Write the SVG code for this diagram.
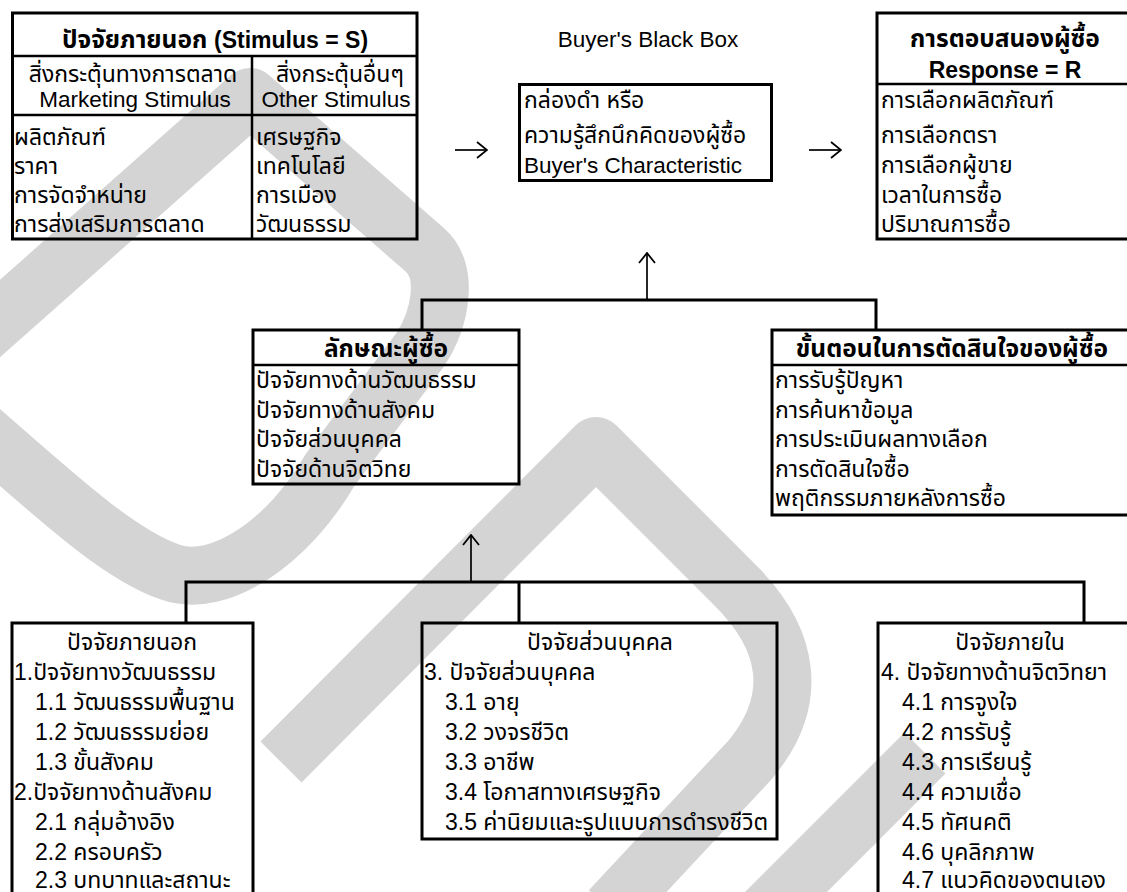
<svg xmlns="http://www.w3.org/2000/svg" width="1127" height="892" viewBox="0 0 1127 892">
<defs>
<style>
.t{font-family:"Liberation Sans","Noto Sans Thai","Tahoma","Loma","Garuda",sans-serif;font-size:22.5px;fill:#000}
.th{font-size:23px}
.b{font-weight:bold;font-size:23px}
.bth{font-weight:bold;font-size:24.5px}
.m{text-anchor:middle}
.box{fill:none;stroke:#000;stroke-width:3}
.dv{stroke:#000;stroke-width:2.5}
.con{fill:none;stroke:#000;stroke-width:3}
.arr{fill:none;stroke:#000;stroke-width:1.7;marker-end:url(#ah)}
.wm{fill:none;stroke:#d4d4d4;stroke-width:58;stroke-linejoin:round}
</style>
<marker id="ah" viewBox="0 0 12 18" refX="11" refY="9" markerWidth="12" markerHeight="18" markerUnits="userSpaceOnUse" orient="auto"><path d="M1,1 L11,9 L1,17" fill="none" stroke="#000" stroke-width="1.8"/></marker>
</defs>
<rect width="1127" height="892" fill="#fff"/>
<g id="watermark">
<path class="wm" d="M -30,345 L 250,97 L 425,250 C 450,272 440,320 420,350 L 330,470 C 290,540 220,590 170,572 C 120,555 60,500 -20,430"/>
<path class="wm" d="M 281,762 L 596,446 L 735,585 C 790,640 800,700 750,760 L 610,910"/>
<path class="wm" d="M 925,753 L 760,918"/>
</g>
<g id="stimulus">
<rect class="box" x="12.5" y="13" width="404.5" height="226"/>
<line class="dv" x1="12.5" y1="56" x2="417" y2="56"/>
<line class="dv" x1="252" y1="56" x2="252" y2="239"/>
<line class="dv" x1="12.5" y1="115" x2="417" y2="115"/>
<text class="t b m" x="215" y="48"><tspan class="bth">ปัจจัยภายนอก </tspan>(Stimulus = S)</text>
<text class="t th m" x="133" y="82">สิ่งกระตุ้นทางการตลาด</text>
<text class="t m" x="135" y="107">Marketing Stimulus</text>
<text class="t th m" x="340" y="82">สิ่งกระตุ้นอื่นๆ</text>
<text class="t m" x="336" y="107">Other Stimulus</text>
<text class="t th" x="14" y="145">ผลิตภัณฑ์</text>
<text class="t th" x="14" y="174">ราคา</text>
<text class="t th" x="14" y="203">การจัดจำหน่าย</text>
<text class="t th" x="14" y="232">การส่งเสริมการตลาด</text>
<text class="t th" x="256" y="145">เศรษฐกิจ</text>
<text class="t th" x="256" y="174">เทคโนโลยี</text>
<text class="t th" x="256" y="203">การเมือง</text>
<text class="t th" x="256" y="232">วัฒนธรรม</text>
</g>
<g id="blackbox-title">
<text class="t m" x="648" y="47">Buyer's Black Box</text>
</g>
<g id="blackbox">
<rect class="box" x="519.5" y="84.5" width="252" height="96"/>
<text class="t th" x="524" y="108">กล่องดำ หรือ</text>
<text class="t th" x="524" y="143">ความรู้สึกนึกคิดของผู้ซื้อ</text>
<text class="t" x="524" y="173">Buyer's Characteristic</text>
</g>
<g id="response">
<rect class="box" x="877" y="13" width="260" height="226"/>
<line class="dv" x1="877" y1="84" x2="1137" y2="84"/>
<text class="t bth m" x="1005" y="47">การตอบสนองผู้ซื้อ</text>
<text class="t b m" x="1005" y="78">Response = R</text>
<text class="t th" x="881" y="108">การเลือกผลิตภัณฑ์</text>
<text class="t th" x="881" y="143">การเลือกตรา</text>
<text class="t th" x="881" y="173">การเลือกผู้ขาย</text>
<text class="t th" x="881" y="203">เวลาในการซื้อ</text>
<text class="t th" x="881" y="232">ปริมาณการซื้อ</text>
</g>
<g id="buyer-characteristics">
<rect class="box" x="253" y="330" width="266" height="154"/>
<line class="dv" x1="253" y1="365" x2="519" y2="365"/>
<text class="t bth m" x="386" y="357">ลักษณะผู้ซื้อ</text>
<text class="t th" x="256" y="388">ปัจจัยทางด้านวัฒนธรรม</text>
<text class="t th" x="256" y="418">ปัจจัยทางด้านสังคม</text>
<text class="t th" x="256" y="447">ปัจจัยส่วนบุคคล</text>
<text class="t th" x="256" y="477">ปัจจัยด้านจิตวิทย</text>
</g>
<g id="decision-process">
<rect class="box" x="772" y="330" width="365" height="185"/>
<line class="dv" x1="772" y1="365" x2="1137" y2="365"/>
<text class="t bth m" x="952" y="357">ขั้นตอนในการตัดสินใจของผู้ซื้อ</text>
<text class="t th" x="775" y="388">การรับรู้ปัญหา</text>
<text class="t th" x="775" y="418">การค้นหาข้อมูล</text>
<text class="t th" x="775" y="447">การประเมินผลทางเลือก</text>
<text class="t th" x="775" y="477">การตัดสินใจซื้อ</text>
<text class="t th" x="775" y="506">พฤติกรรมภายหลังการซื้อ</text>
</g>
<g id="external-factors">
<rect class="box" x="12" y="623" width="241" height="300"/>
<text class="t th m" x="132" y="650">ปัจจัยภายนอก</text>
<text class="t th" x="14" y="680">1.ปัจจัยทางวัฒนธรรม</text>
<text class="t th" x="35" y="710">1.1 วัฒนธรรมพื้นฐาน</text>
<text class="t th" x="35" y="740">1.2 วัฒนธรรมย่อย</text>
<text class="t th" x="35" y="770">1.3 ขั้นสังคม</text>
<text class="t th" x="14" y="800">2.ปัจจัยทางด้านสังคม</text>
<text class="t th" x="35" y="830">2.1 กลุ่มอ้างอิง</text>
<text class="t th" x="35" y="860">2.2 ครอบครัว</text>
<text class="t th" x="35" y="888">2.3 บทบาทและสถานะ</text>
</g>
<g id="personal-factors">
<rect class="box" x="422" y="623" width="355" height="216"/>
<text class="t th m" x="600" y="650">ปัจจัยส่วนบุคคล</text>
<text class="t th" x="424" y="680">3. ปัจจัยส่วนบุคคล</text>
<text class="t th" x="445" y="710">3.1 อายุ</text>
<text class="t th" x="445" y="740">3.2 วงจรชีวิต</text>
<text class="t th" x="445" y="770">3.3 อาชีพ</text>
<text class="t th" x="445" y="800">3.4 โอกาสทางเศรษฐกิจ</text>
<text class="t th" x="445" y="830">3.5 ค่านิยมและรูปแบบการดำรงชีวิต</text>
</g>
<g id="internal-factors">
<rect class="box" x="878" y="623" width="259" height="300"/>
<text class="t th m" x="1010" y="650">ปัจจัยภายใน</text>
<text class="t th" x="881" y="680">4. ปัจจัยทางด้านจิตวิทยา</text>
<text class="t th" x="902" y="710">4.1 การจูงใจ</text>
<text class="t th" x="902" y="740">4.2 การรับรู้</text>
<text class="t th" x="902" y="770">4.3 การเรียนรู้</text>
<text class="t th" x="902" y="800">4.4 ความเชื่อ</text>
<text class="t th" x="902" y="830">4.5 ทัศนคติ</text>
<text class="t th" x="902" y="860">4.6 บุคลิกภาพ</text>
<text class="t th" x="902" y="888">4.7 แนวคิดของตนเอง</text>
</g>
<g id="connectors">
<line class="arr" x1="455" y1="150" x2="487" y2="150"/>
<line class="arr" x1="809" y1="150" x2="841" y2="150"/>
<line class="arr" x1="647" y1="300" x2="647" y2="253"/>
<path class="con" d="M422,330 V300 H876 V330"/>
<line class="arr" x1="471" y1="582" x2="471" y2="535"/>
<path class="con" d="M186,623 V582 H1084 V623"/>
<line class="con" x1="519" y1="582" x2="519" y2="623"/>
</g>
</svg>
